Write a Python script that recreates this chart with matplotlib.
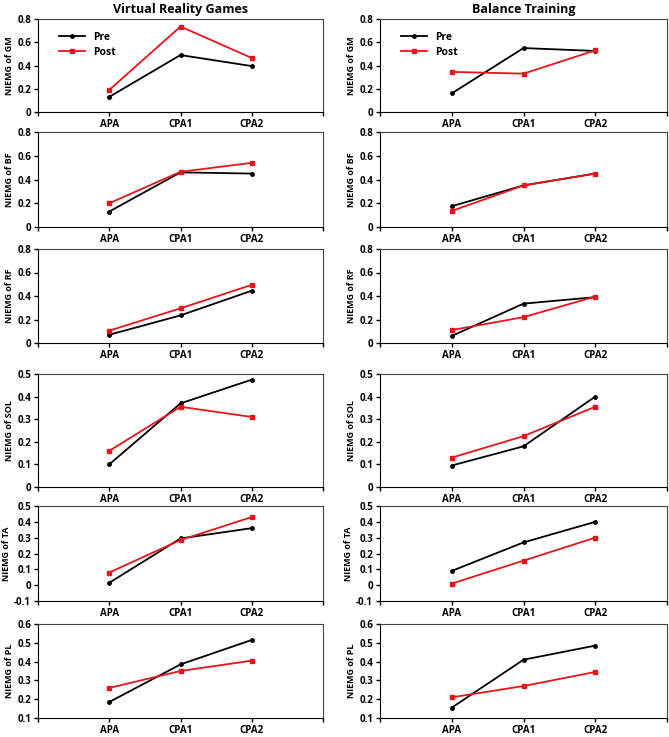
import matplotlib
matplotlib.use("Agg")
import matplotlib.pyplot as plt
from matplotlib.ticker import FuncFormatter

plt.rcParams['font.family'] = ['Open Sans', 'DejaVu Sans']
plt.rcParams['font.weight'] = 'bold'

phases = ['APA', 'CPA1', 'CPA2']
muscles = ['GM', 'BF', 'RF', 'SOL', 'TA', 'PL']
groups = ['Virtual Reality Games', 'Balance Training']

# y-axis range and step per muscle
ylims = {'GM': (0, 0.8, 0.2), 'BF': (0, 0.8, 0.2), 'RF': (0, 0.8, 0.2),
         'SOL': (0, 0.5, 0.1), 'TA': (-0.1, 0.5, 0.1), 'PL': (0.1, 0.6, 0.1)}

# virtual reality games
vr_pre = {'GM': [0.13, 0.49, 0.395], 'BF': [0.13, 0.46, 0.45],
          'RF': [0.07, 0.235, 0.445], 'SOL': [0.10, 0.37, 0.475],
          'TA': [0.015, 0.295, 0.36], 'PL': [0.185, 0.385, 0.515]}
vr_post = {'GM': [0.19, 0.735, 0.465], 'BF': [0.20, 0.465, 0.54],
           'RF': [0.105, 0.295, 0.495], 'SOL': [0.16, 0.355, 0.31],
           'TA': [0.08, 0.285, 0.43], 'PL': [0.26, 0.35, 0.405]}

# balance training
bt_pre = {'GM': [0.16, 0.55, 0.525], 'BF': [0.175, 0.35, 0.45],
          'RF': [0.06, 0.335, 0.39], 'SOL': [0.095, 0.18, 0.40],
          'TA': [0.09, 0.27, 0.40], 'PL': [0.155, 0.41, 0.485]}
bt_post = {'GM': [0.345, 0.33, 0.53], 'BF': [0.135, 0.35, 0.45],
           'RF': [0.11, 0.22, 0.395], 'SOL': [0.13, 0.225, 0.355],
           'TA': [0.01, 0.155, 0.30], 'PL': [0.21, 0.27, 0.345]}

W, H = 669, 737
fig = plt.figure(figsize=(W / 100, H / 100), dpi=100)

# pixel boxes (top, bottom) for each row, (left, right) for each column
rows = [(19, 112), (132, 227), (249, 343), (374, 487), (506, 601), (624, 718)]
cols = [(38, 323), (380, 667)]

fmt = FuncFormatter(lambda v, p: f'{round(v, 2):g}')

for c, (pre, post) in enumerate([(vr_pre, vr_post), (bt_pre, bt_post)]):
    for r, m in enumerate(muscles):
        top, bot = rows[r]
        left, right = cols[c]
        ax = fig.add_axes([left / W, 1 - bot / H, (right - left) / W, (bot - top) / H])
        x = [1, 2, 3]
        ax.plot(x, pre[m], color='black', lw=1.3, marker='o', ms=2.5, label='Pre')
        ax.plot(x, post[m], color='#e8141b', lw=1.3, marker='s', ms=3.5, label='Post')
        lo, hi, step = ylims[m]
        n = int(round((hi - lo) / step))
        ax.set_ylim(lo, hi)
        ax.set_yticks([lo + i * step for i in range(n + 1)])
        ax.yaxis.set_major_formatter(fmt)
        ax.set_xlim(0, 4)
        ax.set_xticks([0, 1, 2, 3, 4])
        ax.set_xticklabels([''] + phases + [''])
        ax.tick_params(axis='both', labelsize=7, length=3, width=1, pad=2)
        ax.set_ylabel(f'NIEMG of {m}', fontsize=6.5, fontweight='bold', labelpad=2)
        for s in ax.spines.values():
            s.set_color('#444444')
            s.set_linewidth(0.8)
        ax.spines['left'].set_color('black')
        ax.spines['bottom'].set_color('black')
        if r == 0:
            ax.set_title(groups[c], fontsize=9, fontweight='bold', pad=4)
            ax.legend(loc='upper left', frameon=False, fontsize=7.5,
                      handlelength=2.5, borderaxespad=0.8, labelspacing=0.4,
                      bbox_to_anchor=(0.03, 1.0))

fig.savefig('out.png', dpi=100)
